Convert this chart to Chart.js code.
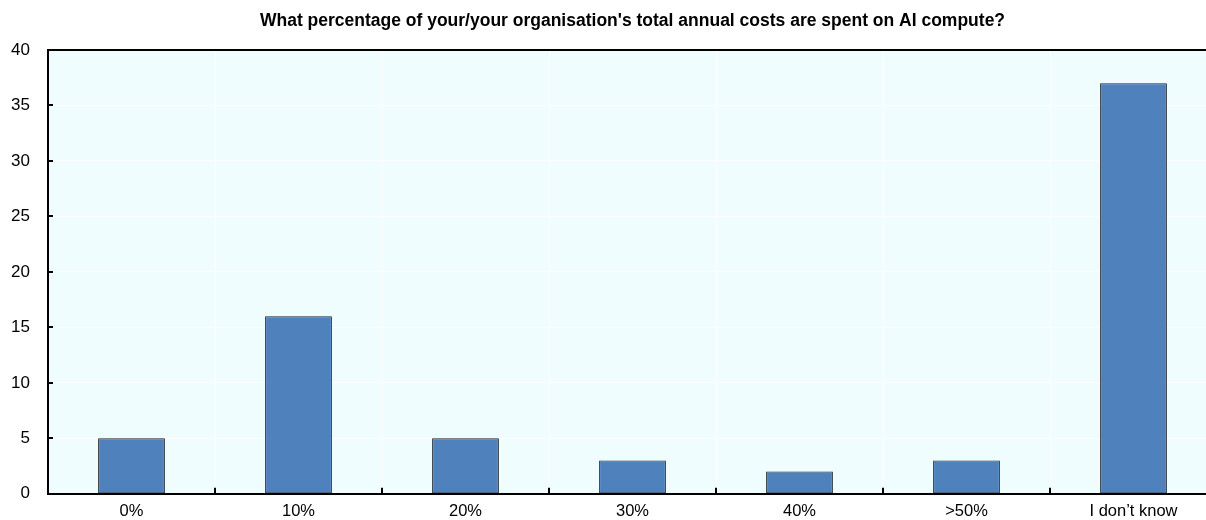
<!DOCTYPE html>
<html>
<head>
<meta charset="utf-8">
<script src="https://cdn.jsdelivr.net/npm/chart.js@4.4.1/dist/chart.umd.min.js"></script>
<style>
  html, body { margin: 0; padding: 0; background: #fff; overflow: hidden; }
  #wrap { width: 1206px; height: 520px; overflow: hidden; }
  #box { width: 1218px; height: 522px; }
</style>
</head>
<body>
<div id="wrap"><div id="box"><canvas id="chart"></canvas></div></div>
<script>
const title = "What percentage of your/your organisation's total annual costs are spent on AI compute?";
const categories = ['0%', '10%', '20%', '30%', '40%', '>50%', "I don\u2019t know"];
const shares = [5, 16, 5, 3, 2, 3, 37];
const yTicks = [0, 5, 10, 15, 20, 25, 30, 35, 40];

// plot background, top border and inward tick marks
const plotDecor = {
    id: 'plotDecor',
    beforeDraw(chart) {
        const { ctx, chartArea: a } = chart;
        ctx.save();
        ctx.fillStyle = '#effdff';
        ctx.fillRect(a.left, a.top, a.right - a.left, a.bottom - a.top);
        ctx.restore();
    },
    afterDatasetsDraw(chart) {
        const { ctx, chartArea: a, scales } = chart;
        ctx.save();
        ctx.strokeStyle = '#000';
        ctx.lineWidth = 2;
        ctx.beginPath();
        ctx.moveTo(a.left - 1, a.top);
        ctx.lineTo(a.right, a.top);
        ctx.stroke();
        yTicks.forEach(v => {
            const y = Math.round(scales.y.getPixelForValue(v));
            ctx.beginPath();
            ctx.moveTo(a.left, y);
            ctx.lineTo(a.left + 5, y);
            ctx.stroke();
        });
        for (let i = 1; i < categories.length; i++) {
            const x = Math.round(scales.x.getPixelForValue(i - 0.5));
            ctx.beginPath();
            ctx.moveTo(x, a.bottom);
            ctx.lineTo(x, a.bottom - 6);
            ctx.stroke();
        }
        ctx.restore();
    }
};

new Chart(document.getElementById('chart'), {
    type: 'bar',
    data: {
        labels: categories,
        datasets: [{
            data: shares,
            backgroundColor: '#4f81bd',
            borderColor: '#1c2530',
            borderWidth: 1,
            borderSkipped: false,
            barPercentage: 0.8,
            categoryPercentage: 0.5
        }]
    },
    options: {
        responsive: true,
        maintainAspectRatio: false,
        animation: false,
        layout: { padding: { left: 0, right: 1, top: 0, bottom: 0 } },
        plugins: {
            legend: { display: false },
            tooltip: { enabled: false },
            title: {
                display: true,
                text: title,
                fullSize: false,
                color: '#000',
                font: { family: 'Liberation Sans, Arial, sans-serif', size: 17.5, weight: 'bold' },
                padding: { top: 11, bottom: 18 }
            }
        },
        scales: {
            x: {
                afterFit: s => { s.height = 24; },
                grid: { color: '#ffffff', lineWidth: 1, drawTicks: false, offset: true },
                border: { color: '#000', width: 2 },
                ticks: {
                    color: '#000',
                    padding: 8,
                    maxRotation: 0,
                    font: { family: 'Liberation Sans, Arial, sans-serif', size: 16.5 }
                }
            },
            y: {
                min: 0,
                max: 40,
                afterFit: s => { s.width = 48; },
                grid: { color: '#ffffff', lineWidth: 1, drawTicks: false },
                border: { color: '#000', width: 2 },
                ticks: {
                    stepSize: 5,
                    color: '#000',
                    padding: 18,
                    font: { family: 'Liberation Sans, Arial, sans-serif', size: 17 }
                }
            }
        }
    },
    plugins: [plotDecor]
});
</script>
</body>
</html>
